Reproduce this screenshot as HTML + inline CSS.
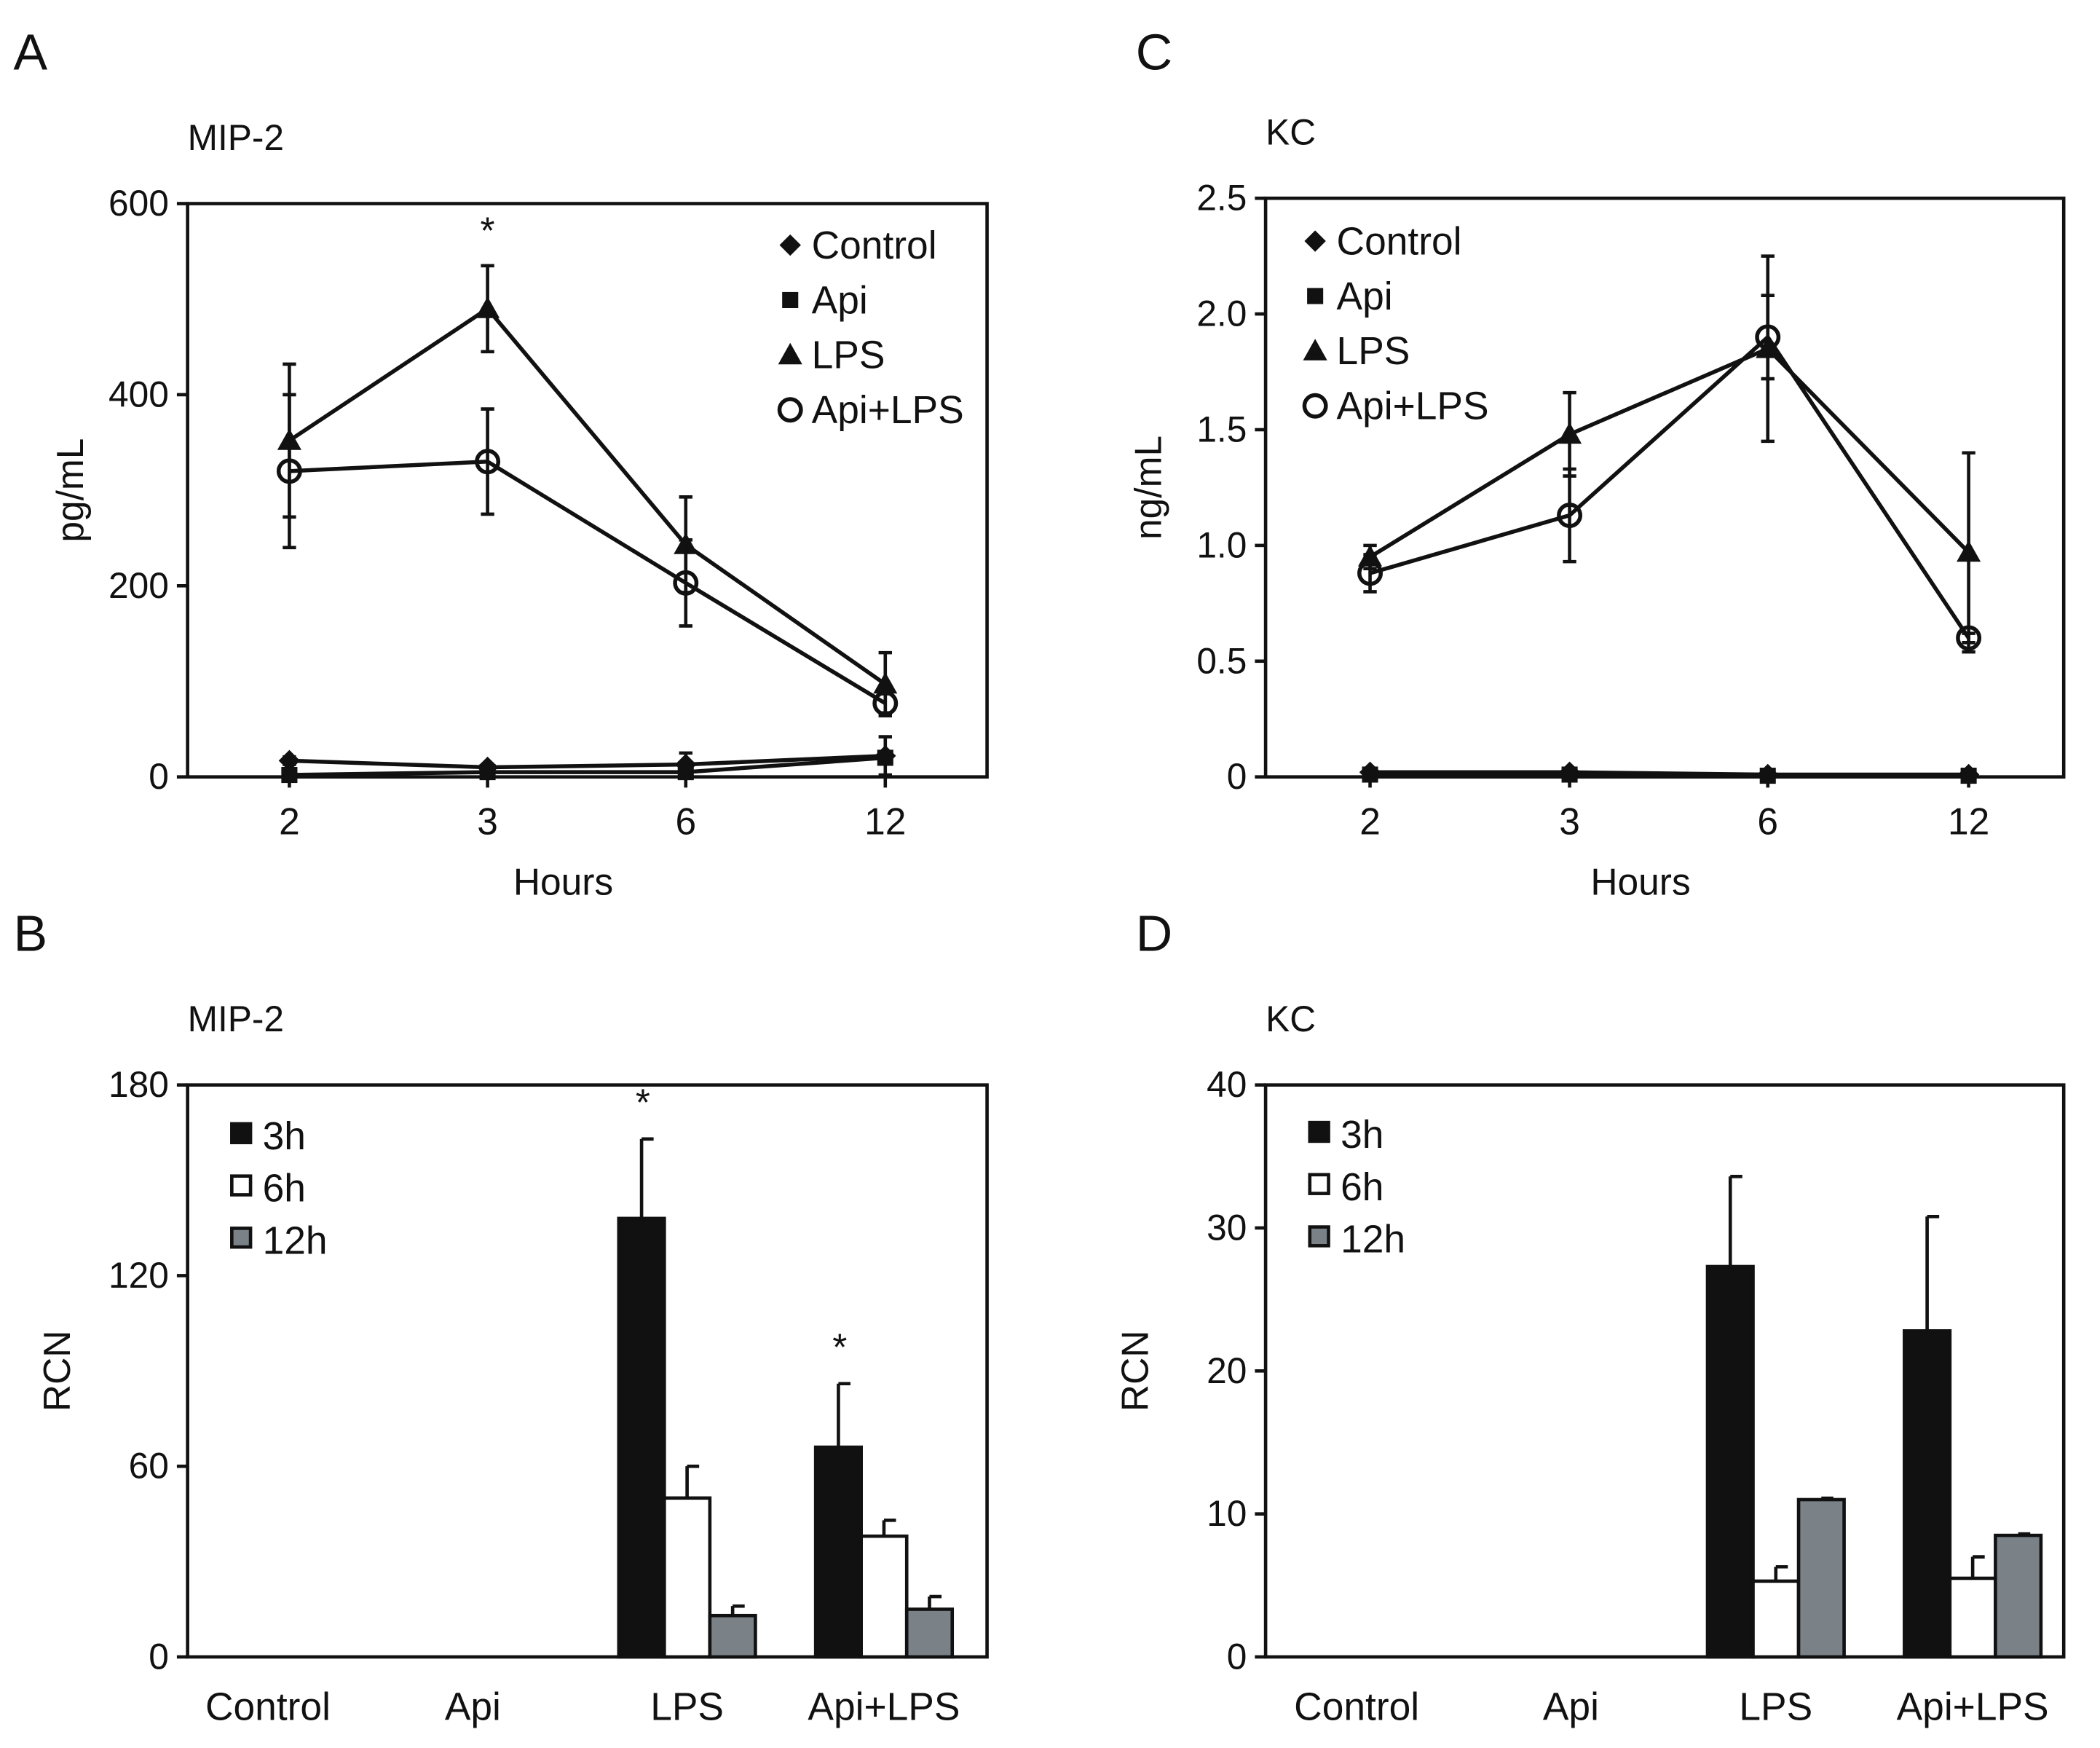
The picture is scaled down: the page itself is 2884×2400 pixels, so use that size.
<!DOCTYPE html>
<html><head><meta charset="utf-8"><style>
html,body{margin:0;padding:0;background:#fff}
svg{display:block}
text{font-family:"Liberation Sans",Arial,sans-serif;fill:#111}
</style></head><body>
<svg id="fig" xmlns="http://www.w3.org/2000/svg" width="2884" height="2400" viewBox="0 0 1568 1305">
<rect width="1568" height="1305" fill="#fff"/>
</svg>
<script>
// Panel A data (MIP-2 pg/mL)
const hours = ["2","3","6","12"];
const aLPS = [352,490,243,97], aLPSerr = [80,45,50,33];
const aApiLPS = [320,330,203,77], aApiLPSerr = [80,55,45,10];
const aControl = [17,10,13,22], aControlErr = [4,3,12,20];
const aApi = [2,5,5,20], aApiErr = [1,2,3,5];
const aTicks = [0,200,400,600];
// Panel C data (KC ng/mL)
const cLPS = [0.95,1.48,1.85,0.97], cLPSerr = [0.05,0.18,0.4,0.43];
const cApiLPS = [0.88,1.13,1.9,0.6], cApiLPSerr = [0.08,0.2,0.18,0.02];
const cControl = [0.02,0.02,0.01,0.01], cApi = [0.01,0.01,0.005,0.005];
const cTicks = ["0","0.5","1.0","1.5","2.0","2.5"];
// Panel B data (MIP-2 RCN)
const groups = ["Control","Api","LPS","Api+LPS"];
const b3h = [0,0,138,66], b3hErr = [0,0,25,20];
const b6h = [0,0,50,38], b6hErr = [0,0,10,5];
const b12h = [0,0,13,15], b12hErr = [0,0,3,4];
const bTicks = [0,60,120,180];
// Panel D data (KC RCN)
const d3h = [0,0,27.3,22.8], d3hErr = [0,0,6.3,8];
const d6h = [0,0,5.3,5.5], d6hErr = [0,0,1,1.5];
const d12h = [0,0,11,8.5], d12hErr = [0,0,0.1,0.1];
const dTicks = [0,10,20,30,40];

const svg = document.getElementById('fig');
const NS = "http://www.w3.org/2000/svg";
function el(tag, attrs, parent){const e=document.createElementNS(NS,tag);for(const k in attrs)e.setAttribute(k,attrs[k]);(parent||svg).appendChild(e);return e;}
function txt(x,y,s,size,anchor,name,extra){const t=el('text',Object.assign({x:x,y:y,'font-size':size,'text-anchor':anchor||'start'},extra||{}));t.textContent=s;


return t;}

function frame(x0,y0,x1,y1,name){const r=el('rect',{x:x0,y:y0,width:x1-x0,height:y1-y0,fill:'none',stroke:'#111','stroke-width':2.5});

}

function marker(type,x,y,g){
  let m;
  if(type==='diamond') m=el('polygon',{points:`${x},${y-8} ${x+8},${y} ${x},${y+8} ${x-8},${y}`,fill:'#111'},g);
  else if(type==='square') m=el('rect',{x:x-6,y:y-6,width:12,height:12,fill:'#111'},g);
  else if(type==='triangle') m=el('polygon',{points:`${x},${y-9} ${x+9},${y+7} ${x-9},${y+7}`,fill:'#111'},g);
  else m=el('circle',{cx:x,cy:y,r:8,fill:'none',stroke:'#111','stroke-width':3},g);
  
  
}
function errbar(x,y1,y2,g){
  const p=el('path',{d:`M${x},${y1}V${y2}M${x-5},${y1}H${x+5}M${x-5},${y2}H${x+5}`,stroke:'#111','stroke-width':2.5,fill:'none'},g);
  
  
}

function linePanel(o){
  const {x0,y0,x1,y1,ymax,xs,series,ticks,tickLabels,letter,title,ylab,legendX,legendY,star} = o;
  frame(x0,y0,x1,y1,letter+'-plot-frame');
  const Y=v=>y1-(v/ymax)*(y1-y0);
  ticks.forEach((t,i)=>{const yy=Y(t);el('line',{x1:x0-8,y1:yy,x2:x0,y2:yy,stroke:'#111','stroke-width':2.5});
    txt(x0-14,yy+9,tickLabels[i],27,'end','y-tick-label');});
  xs.forEach((x,i)=>{el('line',{x1:x,y1:y1,x2:x,y2:y1+8,stroke:'#111','stroke-width':2.5});txt(x,y1+43,hours[i],28,'middle','x-tick-label');});
  txt((x0+x1)/2-18,y1+88,'Hours',28,'middle','x-axis-title');
  txt(letter==='A'?10:848,52,letter,38,'start','panel-label-'+letter);
  txt(x0,y0-40,title,27,'start','panel-title');
  const yl=txt(0,0,ylab,28,'middle','y-axis-title');
  yl.setAttribute('transform',`translate(${x0-78},${(y0+y1)/2}) rotate(-90)`);
  series.forEach(s=>{
    const g=el('g',{});
    
    
    const pts=s.vals.map((v,i)=>[xs[i],Y(v)]);
    el('polyline',{points:pts.map(p=>p.join(',')).join(' '),fill:'none',stroke:'#111','stroke-width':3},g);
    if(s.err) s.vals.forEach((v,i)=>{if(s.err[i]>0)errbar(xs[i],Y(v+s.err[i]),Y(v-s.err[i]),g);});
    pts.forEach(p=>marker(s.type,p[0],p[1],g));
  });
  series.forEach((s,i)=>{const ly=legendY+i*41;marker(s.type,legendX,ly,svg);
    txt(legendX+16,ly+10,s.label,29,'start','legend-entry');});
  if(star) txt(star[0],star[1],'*',28,'middle','significance-star');
}

linePanel({x0:140,y0:152,x1:737,y1:580,ymax:600,xs:[216,364,512,661],
  series:[{label:'Control',type:'diamond',vals:aControl,err:aControlErr},{label:'Api',type:'square',vals:aApi,err:aApiErr},
  {label:'LPS',type:'triangle',vals:aLPS,err:aLPSerr},{label:'Api+LPS',type:'circle',vals:aApiLPS,err:aApiLPSerr}],
  ticks:aTicks,tickLabels:aTicks.map(String),letter:'A',title:'MIP-2',ylab:'pg/mL',legendX:590,legendY:183,star:[364,182]});
linePanel({x0:945,y0:148,x1:1541,y1:580,ymax:2.5,xs:[1023,1172,1320,1470],
  series:[{label:'Control',type:'diamond',vals:cControl},{label:'Api',type:'square',vals:cApi},
  {label:'LPS',type:'triangle',vals:cLPS,err:cLPSerr},{label:'Api+LPS',type:'circle',vals:cApiLPS,err:cApiLPSerr}],
  ticks:cTicks.map(Number),tickLabels:cTicks,letter:'C',title:'KC',ylab:'ng/mL',legendX:982,legendY:180});

function barPanel(o){
  const {x0,y0,x1,y1,ymax,ticks,centers,s3,e3,s6,e6,s12,e12,letter,title,stars} = o;
  frame(x0,y0,x1,y1,letter+'-plot-frame');
  const Y=v=>y1-(v/ymax)*(y1-y0);
  ticks.forEach(t=>{const yy=Y(t);el('line',{x1:x0-8,y1:yy,x2:x0,y2:yy,stroke:'#111','stroke-width':2.5});
    txt(x0-14,yy+9,String(t),27,'end','y-tick-label');});
  groups.forEach((gname,i)=>txt(centers[i],y1+47,gname,29,'middle','x-category-label'));
  txt(letter==='B'?10:848,710,letter,38,'start','panel-label-'+letter);
  txt(x0,y0-40,title,27,'start','panel-title');
  const yl=txt(0,0,'RCN',28,'middle','y-axis-title');
  yl.setAttribute('transform',`translate(${x0-88},${(y0+y1)/2}) rotate(-90)`);
  const bw=34, fills=['#111','#fff','#7a8288'];
  [[s3,e3],[s6,e6],[s12,e12]].forEach((se,k)=>{
    se[0].forEach((v,i)=>{if(v<=0)return;
      const x=centers[i]-1.5*bw+k*bw;
      const r=el('rect',{x:x,y:Y(v),width:bw,height:Y(0)-Y(v),fill:fills[k],stroke:'#111','stroke-width':2.5});
      
      
      const ex=x+bw/2, ey=Y(v+se[1][i]);
      el('path',{d:`M${ex},${Y(v)}V${ey}M${ex},${ey}H${ex+9}`,stroke:'#111','stroke-width':2.5,fill:'none'});
    });
  });
  ['3h','6h','12h'].forEach((l,k)=>{const ly=848+k*39-(letter==='D'?1:0);
    const r=el('rect',{x:x0+33,y:ly-9,width:14,height:14,fill:fills[k],stroke:'#111','stroke-width':2.5});
    
    
    txt(x0+56,ly+10,l,29,'start','legend-entry');});
  (stars||[]).forEach(s=>txt(s[0],Y(s[1])-8,'*',28,'middle','significance-star'));
}
barPanel({x0:140,y0:810,x1:737,y1:1237,ymax:180,ticks:bTicks,centers:[200,353,513,660],
  s3:b3h,e3:b3hErr,s6:b6h,e6:b6hErr,s12:b12h,e12:b12hErr,letter:'B',title:'MIP-2',
  stars:[[480,b3h[2]+b3hErr[2]+4],[627,b3h[3]+b3hErr[3]+4]]});
barPanel({x0:945,y0:810,x1:1541,y1:1237,ymax:40,ticks:dTicks,centers:[1013,1173,1326,1473],
  s3:d3h,e3:d3hErr,s6:d6h,e6:d6hErr,s12:d12h,e12:d12hErr,letter:'D',title:'KC'});
</script>
</body></html>
